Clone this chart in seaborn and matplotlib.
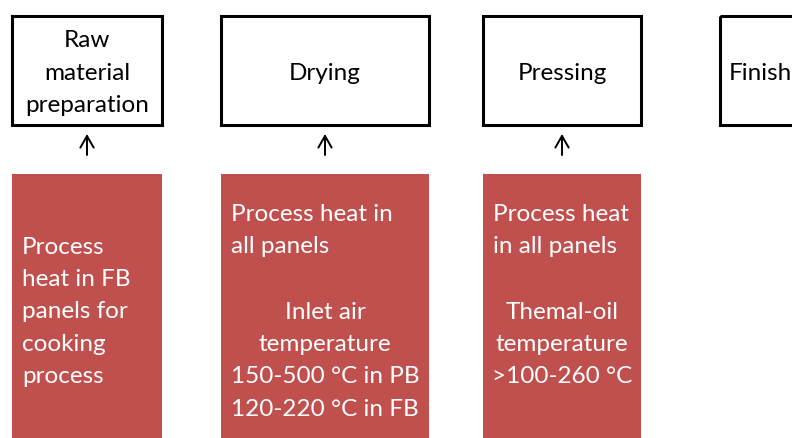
import matplotlib.pyplot as plt
import matplotlib.patches as mpatches
import seaborn as sns

sns.set_theme(style="white")
plt.rcParams['font.family'] = ['Lato', 'DejaVu Sans']

# process steps (top row) and the heat notes under them
steps = ["Raw\nmaterial\npreparation", "Drying", "Pressing", "Finish"]
note_heads = ["", "Process heat in\nall panels", "Process heat\nin all panels"]
note_bodies = ["Process\nheat in FB\npanels for\ncooking\nprocess",
               "Inlet air\ntemperature\n150-500 °C in PB\n120-220 °C in FB",
               "Themal-oil\ntemperature\n>100-260 °C"]

# layout in pixels
box_x = [12, 221, 483, 720]
box_w = [150, 208, 158, 150]
top_y, top_h = 17, 109
red_y, red_h = 175, 264
red = "#C0504D"
fs = 17.5
ls = 1.66
step = 32.5

fig = plt.figure(figsize=(7.92, 4.39), dpi=100)
ax = fig.add_axes([0, 0, 1, 1])
ax.set_xlim(0, 792)
ax.set_ylim(439, 0)
ax.axis("off")

for x, w, label in zip(box_x, box_w, steps):
    ax.add_patch(mpatches.Rectangle((x, top_y), w, top_h, fill=False,
                                    edgecolor="black", linewidth=2.2))
    if x == box_x[-1]:
        ax.text(x + 9, 73, label, ha="left", va="center",
                fontsize=fs, color="black")
    else:
        ax.text(x + w / 2, 73, label, ha="center", va="center",
                fontsize=fs, color="black", linespacing=ls)

for i in range(3):
    x, w = box_x[i], box_w[i]
    cx = x + w / 2
    ax.annotate("", xy=(cx, 135), xytext=(cx, 156),
                arrowprops=dict(arrowstyle="->,head_length=0.7,head_width=0.4",
                                color="black", lw=1.4, shrinkA=0, shrinkB=0))
    ax.add_patch(mpatches.Rectangle((x, red_y), w, red_h, facecolor=red,
                                    edgecolor="none"))
    n = note_bodies[i].count("\n") + 1
    if note_heads[i]:
        ax.text(x + 10, 214 + step / 2, note_heads[i], ha="left", va="center",
                fontsize=fs, color="white", linespacing=ls)
        ax.text(cx, 312 + (n - 1) * step / 2, note_bodies[i], ha="center",
                va="center", fontsize=fs, color="white", linespacing=ls)
    else:
        ax.text(x + 10, 247 + (n - 1) * step / 2, note_bodies[i], ha="left",
                va="center", fontsize=fs, color="white", linespacing=ls)

fig.savefig("out.png", dpi=100)
